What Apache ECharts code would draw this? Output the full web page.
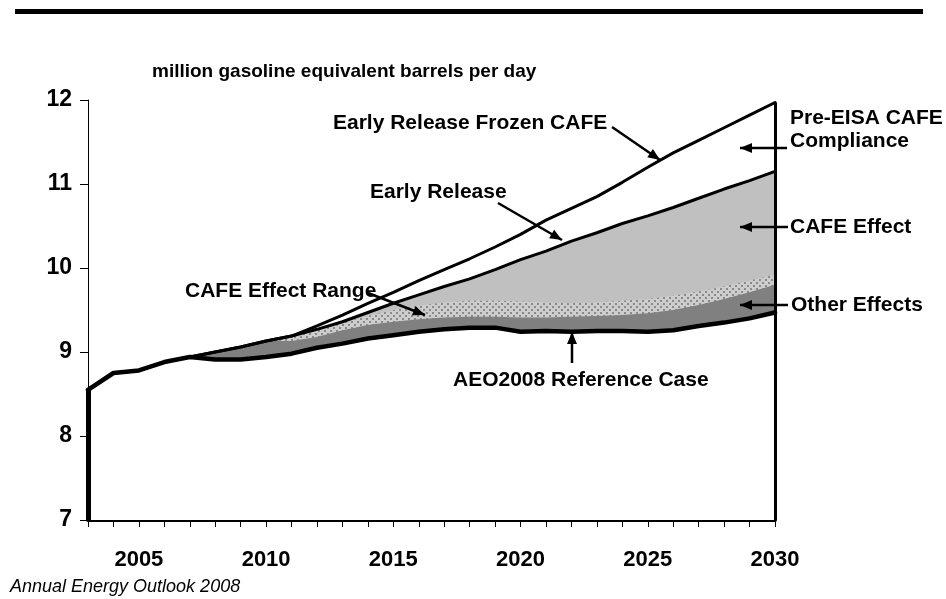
<!DOCTYPE html>
<html>
<head>
<meta charset="utf-8">
<script src="https://cdn.jsdelivr.net/npm/echarts@6/dist/echarts.min.js"></script>
<style>
html,body{margin:0;padding:0;background:#fff;}
#chart{width:946px;height:599px;}
</style>
</head>
<body>
<div id="chart"></div>
<script>
// ---- data (million gasoline equivalent barrels per day) ----
const years = [2003,2004,2005,2006,2007,2008,2009,2010,2011,2012,2013,2014,2015,2016,2017,2018,2019,2020,2021,2022,2023,2024,2025,2026,2027,2028,2029,2030];
const referenceCase = [8.55,8.75,8.78,8.88,8.94,8.91,8.91,8.94,8.98,9.05,9.10,9.16,9.20,9.24,9.27,9.29,9.29,9.24,9.25,9.24,9.25,9.25,9.24,9.26,9.31,9.35,9.40,9.47];
const otherEffectsTop = [8.55,8.75,8.78,8.88,8.94,9.00,9.06,9.13,9.13,9.18,9.26,9.32,9.36,9.39,9.41,9.42,9.42,9.41,9.41,9.42,9.43,9.44,9.46,9.50,9.56,9.63,9.71,9.80];
const cafeRangeTop = [8.55,8.75,8.78,8.88,8.94,9.00,9.06,9.13,9.19,9.26,9.35,9.43,9.50,9.55,9.59,9.61,9.61,9.60,9.59,9.58,9.59,9.61,9.63,9.67,9.72,9.78,9.85,9.92];
const earlyRelease = [8.55,8.75,8.78,8.88,8.94,9.00,9.06,9.13,9.19,9.27,9.36,9.47,9.58,9.68,9.78,9.87,9.98,10.10,10.20,10.32,10.42,10.53,10.62,10.72,10.83,10.94,11.04,11.15];
const frozenCafe = [8.55,8.75,8.78,8.88,8.94,9.00,9.06,9.13,9.19,9.31,9.44,9.58,9.71,9.85,9.98,10.11,10.25,10.40,10.57,10.71,10.85,11.02,11.20,11.37,11.52,11.67,11.82,11.97];
const yMin = 7, yMax = 12;

const pairs = arr => years.map((y, i) => [y, arr[i]]);
const FONT = '"Liberation Sans", Arial, sans-serif';

// dotted pattern for CAFE effect range
const pat = document.createElement('canvas');
pat.width = 6; pat.height = 6;
const pc = pat.getContext('2d');
pc.fillStyle = '#cdcdcd'; pc.fillRect(0,0,6,6);
pc.fillStyle = '#8a8a8a';
pc.fillRect(0,0,2,2); pc.fillRect(3,3,2,2);

function fill(name, arr, color) {
  return {
    name, type: 'line', data: pairs(arr), symbol: 'none', silent: true,
    lineStyle: { width: 0, opacity: 0 },
    areaStyle: { color, opacity: 1, origin: 'start' }
  };
}
function line(name, arr, width, extra) {
  return Object.assign({
    name, type: 'line', data: pairs(arr), symbol: 'none', silent: true,
    lineStyle: { color: '#000', width, join: 'round', cap: 'round' }, z: 5
  }, extra || {});
}

// annotation helpers
const graphics = [];
function txt(x, y, s, size) {
  graphics.push({ type: 'text', left: x, top: y - size * 0.5, silent: true, z: 100,
    style: { text: s, font: 'bold ' + size + 'px ' + FONT, fill: '#000' } });
}
function arrow(x1, y1, x2, y2) {
  graphics.push({ type: 'line', silent: true, z: 100, shape: { x1, y1, x2, y2 }, style: { stroke: '#000', lineWidth: 2.5 } });
  const a = Math.atan2(y2 - y1, x2 - x1), L = 12, W = 5;
  const bx = x2 - L * Math.cos(a), by = y2 - L * Math.sin(a);
  const nx = -Math.sin(a), ny = Math.cos(a);
  graphics.push({ type: 'polygon', silent: true, z: 100,
    shape: { points: [[x2, y2], [bx + nx * W, by + ny * W], [bx - nx * W, by - ny * W]] },
    style: { fill: '#000' } });
}

graphics.push({ type: 'rect', silent: true, z: 100, shape: { x: 15, y: 9, width: 908, height: 5 }, style: { fill: '#000' } });
graphics.push({ type: 'text', left: 152, top: 62, silent: true, z: 100,
  style: { text: 'million gasoline equivalent barrels per day', font: 'bold 19px ' + FONT, fill: '#000' } });
graphics.push({ type: 'text', left: 10, top: 578, silent: true, z: 100,
  style: { text: 'Annual Energy Outlook 2008', font: 'italic 18px ' + FONT, fill: '#000' } });

txt(333, 123, 'Early Release Frozen CAFE', 21); arrow(612, 127, 660, 160);
txt(370, 192, 'Early Release', 21); arrow(498, 203, 562, 240);
txt(790, 118, 'Pre-EISA CAFE', 21); txt(790, 141, 'Compliance', 21); arrow(787, 148, 740, 148);
txt(790, 227, 'CAFE Effect', 21); arrow(788, 227, 740, 227);
txt(791, 305, 'Other Effects', 21); arrow(788, 305, 740, 305);
txt(185, 291, 'CAFE Effect Range', 21); arrow(368, 293, 425, 315);
txt(453, 380, 'AEO2008 Reference Case', 21); arrow(572, 363, 572, 332);

const chart = echarts.init(document.getElementById('chart'), null, { renderer: 'canvas' });
chart.setOption({
  animation: false,
  backgroundColor: '#fff',
  grid: { left: 88, right: 171, top: 100, bottom: 79, containLabel: false },
  xAxis: {
    type: 'value', min: years[0], max: years[years.length - 1], interval: 1,
    axisLine: { show: true, lineStyle: { color: '#000', width: 4 } },
    axisTick: { show: true, length: 7, lineStyle: { color: '#000', width: 1 } },
    axisLabel: { margin: 29, color: '#000', fontFamily: FONT, fontWeight: 'bold', fontSize: 22,
      formatter: v => (v % 5 === 0 ? String(v) : '') },
    splitLine: { show: false }
  },
  yAxis: {
    type: 'value', min: yMin, max: yMax, interval: 1,
    axisLine: { show: true, lineStyle: { color: '#000', width: 1 } },
    axisTick: { show: true, inside: false, length: 8, lineStyle: { color: '#000', width: 1 } },
    axisLabel: { margin: 16, color: '#000', fontFamily: FONT, fontWeight: 'bold', fontSize: 23 },
    splitLine: { show: false }
  },
  series: [
    fill('CAFE Effect', earlyRelease, '#c0c0c0'),
    fill('CAFE Effect Range', cafeRangeTop, { image: pat, repeat: 'repeat' }),
    fill('Other Effects', otherEffectsTop, '#808080'),
    fill('below reference', referenceCase, '#ffffff'),
    line('Early Release', earlyRelease, 3),
    line('Early Release Frozen CAFE', frozenCafe, 3, {
      markLine: { silent: true, symbol: ['none', 'none'], label: { show: false },
        lineStyle: { color: '#000', width: 3, type: 'solid' },
        data: [[{ coord: [years[years.length - 1], yMin] }, { coord: [years[years.length - 1], frozenCafe[frozenCafe.length - 1]] }]] }
    }),
    line('AEO2008 Reference Case', referenceCase, 4.5, {
      markLine: { silent: true, symbol: ['none', 'none'], label: { show: false },
        lineStyle: { color: '#000', width: 5, type: 'solid' },
        data: [[{ coord: [years[0], yMin] }, { coord: [years[0], referenceCase[0]] }]] }
    })
  ],
  graphic: graphics
});
</script>
</body>
</html>
